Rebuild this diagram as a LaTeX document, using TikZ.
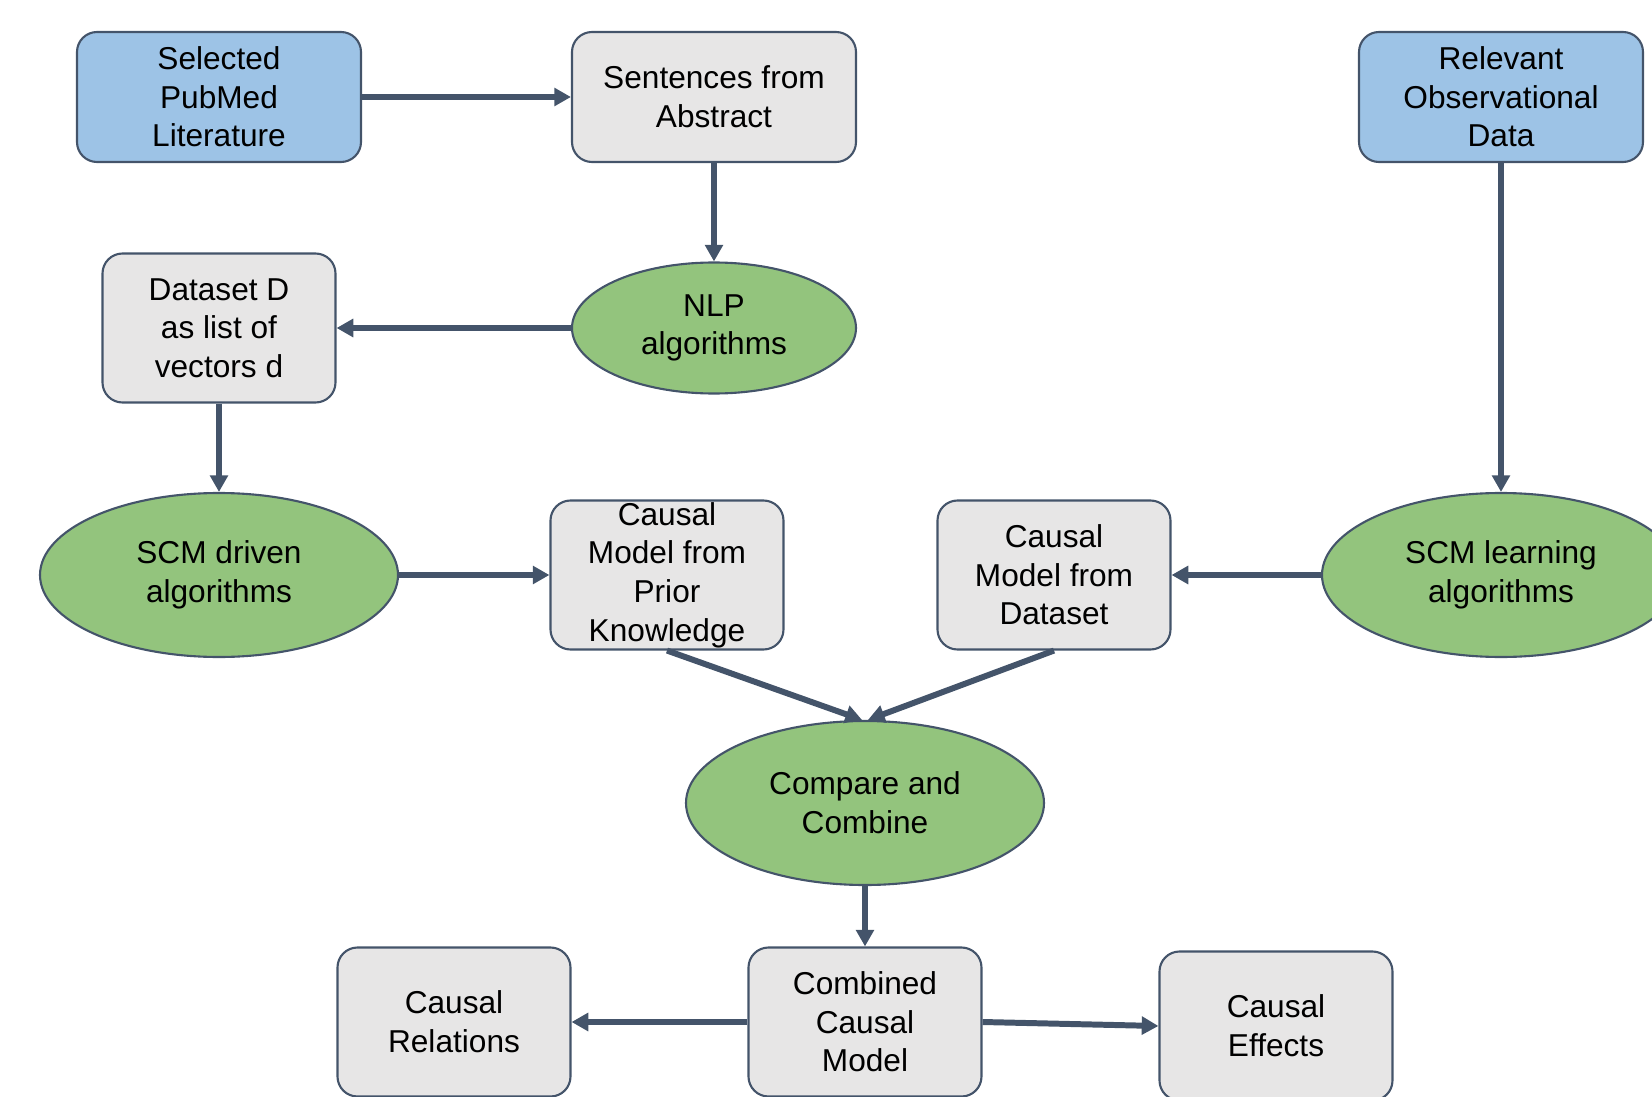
\documentclass[tikz,border=0pt]{standalone}
\usepackage{fontspec}
\setmainfont{Liberation Sans}
\usetikzlibrary{shapes.geometric,arrows.meta}
\definecolor{srcblue}{HTML}{9DC3E6}
\definecolor{stepgray}{HTML}{E7E6E6}
\definecolor{algogreen}{HTML}{93C47D}
\definecolor{edgeslate}{HTML}{44546A}

\begin{document}
\begin{tikzpicture}[
  box/.style={draw=edgeslate, line width=1.2pt, rounded corners=0.4cm, align=center, inner sep=0pt, font=\fontsize{18}{22}\selectfont},
  source/.style={box, fill=srcblue, minimum width=5.68cm, minimum height=2.6cm},
  topstep/.style={box, fill=stepgray, minimum width=5.68cm, minimum height=2.6cm},
  result/.style={box, fill=stepgray, minimum width=4.66cm, minimum height=2.98cm},
  algo/.style={ellipse, draw=edgeslate, line width=1.2pt, fill=algogreen, align=center, inner sep=0pt, font=\fontsize{18}{22}\selectfont, minimum width=7.16cm, minimum height=3.28cm},
  smallalgo/.style={algo, minimum width=5.68cm, minimum height=2.62cm},
  Direct/.style={draw=edgeslate, line width=3.4pt, -{Triangle[length=9.5pt,width=10pt]}}
]
 \useasboundingbox (0,0) rectangle (33.04,-21.94);

 \node[source] (PubMed) at (4.38,-1.94) {Selected\\PubMed\\Literature};
 \node[topstep] (Sentences) at (14.28,-1.94) {Sentences from\\Abstract};
 \node[source] (ObsData) at (30.02,-1.94) {Relevant\\Observational\\Data};
 \node[result] (DatasetD) at (4.38,-6.56) {Dataset D\\as list of\\vectors d};
 \node[smallalgo] (NLP) at (14.28,-6.56) {NLP\\algorithms};
 \node[algo] (SCMdriven) at (4.38,-11.5) {SCM driven\\algorithms};
 \node[result] (PriorModel) at (13.34,-11.5) {Causal\\Model from\\Prior\\Knowledge};
 \node[result] (DataModel) at (21.08,-11.5) {Causal\\Model from\\Dataset};
 \node[algo] (SCMlearn) at (30.02,-11.5) {SCM learning\\algorithms};
 \node[algo] (Compare) at (17.3,-16.06) {Compare and\\Combine};
 \node[result] (Combined) at (17.3,-20.44) {Combined\\Causal\\Model};
 \node[result] (Relations) at (9.08,-20.44) {Causal\\Relations};
 \node[result] (Effects) at (25.52,-20.52) {Causal\\Effects};

 \draw[Direct] (PubMed) -- (Sentences);
 \draw[Direct] (Sentences) -- (NLP);
 \draw[Direct] (NLP) -- (DatasetD);
 \draw[Direct] (DatasetD) -- (SCMdriven);
 \draw[Direct] (SCMdriven) -- (PriorModel);
 \draw[Direct] (ObsData) -- (SCMlearn);
 \draw[Direct] (SCMlearn) -- (DataModel);
 \draw[Direct] (PriorModel.south) -- (Compare.92);
 \draw[Direct] (DataModel.south) -- (Compare.88);
 \draw[Direct] (Compare) -- (Combined);
 \draw[Direct] (Combined) -- (Relations);
 \draw[Direct] (Combined.east) -- (Effects.west);
\end{tikzpicture}
\end{document}
